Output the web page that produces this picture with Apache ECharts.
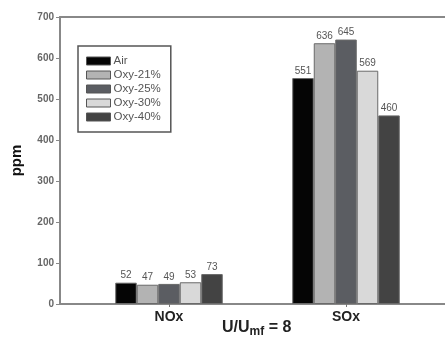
<!DOCTYPE html>
<html>
<head>
<meta charset="utf-8">
<script src="https://cdn.jsdelivr.net/npm/echarts@6/dist/echarts.min.js"></script>
<style>html,body{margin:0;padding:0;background:#fff}#c{width:445px;height:342px}</style>
</head>
<body>
<div id="c"></div>
<script>
var categories = ['NOx', 'SOx'];
var seriesNames = ['Air', 'Oxy-21%', 'Oxy-25%', 'Oxy-30%', 'Oxy-40%'];
var airValues = [52, 551];
var oxy21Values = [47, 636];
var oxy25Values = [49, 645];
var oxy30Values = [53, 569];
var oxy40Values = [73, 460];
var yTicks = [0, 100, 200, 300, 400, 500, 600, 700];

var seriesValues = [airValues, oxy21Values, oxy25Values, oxy30Values, oxy40Values];
var colors = ['#050505', '#b3b3b3', '#5b5d62', '#d9d9d9', '#434343'];

var chart = echarts.init(document.getElementById('c'), null, {renderer: 'canvas'});
var gridTop = 17, gridBottom = 38;
var series = seriesNames.map(function (n, i) {
  return {
    name: n, type: 'bar', xAxisIndex: 2, yAxisIndex: 1,
    data: seriesValues[i],
    barWidth: 21.5, barGap: '0%',
    itemStyle: {color: colors[i], borderColor: '#6a6a6a', borderWidth: 1},
    label: {show: true, position: 'top', distance: 2, color: '#555', fontSize: 10, fontFamily: 'Liberation Sans'}
  };
});
var frameAxis = function (pos) {
  return {gridIndex: 0, type: 'value', position: pos, min: 0, max: 1,
    axisLine: {show: true, onZero: false, lineStyle: {color: '#888', width: 2}},
    axisTick: {show: false}, axisLabel: {show: false}, splitLine: {show: false}};
};
chart.setOption({
  animation: false,
  legend: {
    data: seriesNames, orient: 'vertical', left: 78, top: 46,
    itemWidth: 24, itemHeight: 8, itemGap: 2,
    padding: [9, 10, 9, 8],
    borderColor: '#555', borderWidth: 1.5,
    textStyle: {color: '#555', fontSize: 11.5, lineHeight: 10, fontFamily: 'Liberation Sans', padding: [0, 0, 0, -2]},
    icon: 'rect',
    itemStyle: {borderColor: '#555', borderWidth: 1}
  },
  grid: [
    {left: 60, width: 420, top: gridTop, bottom: gridBottom},
    {left: 80.5, width: 354, top: gridTop, bottom: gridBottom}
  ],
  xAxis: [
    frameAxis('bottom'),
    frameAxis('top'),
    {gridIndex: 1, type: 'category', data: categories,
     axisLine: {show: false},
     axisTick: {show: true, alignWithLabel: true, length: 3, lineStyle: {color: '#777'}},
     axisLabel: {color: '#222', fontSize: 14, fontWeight: 'bold', fontFamily: 'Liberation Sans', margin: 6}}
  ],
  yAxis: [
    {gridIndex: 0, type: 'value', min: 0, max: 700, interval: 100,
     axisLine: {show: true, lineStyle: {color: '#888', width: 2}},
     axisTick: {show: true, length: 4, lineStyle: {color: '#888'}},
     splitLine: {show: false},
     axisLabel: {color: '#666', fontSize: 10, fontWeight: 'bold', fontFamily: 'Liberation Sans', margin: 6,
       formatter: function (v) { return yTicks.indexOf(v) >= 0 ? String(v) : ''; }},
     name: 'ppm', nameLocation: 'middle', nameGap: 36, nameRotate: 90,
     nameTextStyle: {color: '#111', fontSize: 15, fontWeight: 'bold', fontFamily: 'Liberation Sans'}},
    {gridIndex: 1, type: 'value', min: 0, max: 700, interval: 100, show: false, splitLine: {show: false}}
  ],
  graphic: [{
    type: 'text', left: 222, top: 320,
    style: {
      text: 'U/U{s|mf} = 8',
      fill: '#222', font: 'bold 16px "Liberation Sans"',
      rich: {s: {fontSize: 12, fontWeight: 'bold', fill: '#222', fontFamily: 'Liberation Sans', padding: [7, 0, 0, 0]}}
    }
  }],
  series: series
});
</script>
</body>
</html>
